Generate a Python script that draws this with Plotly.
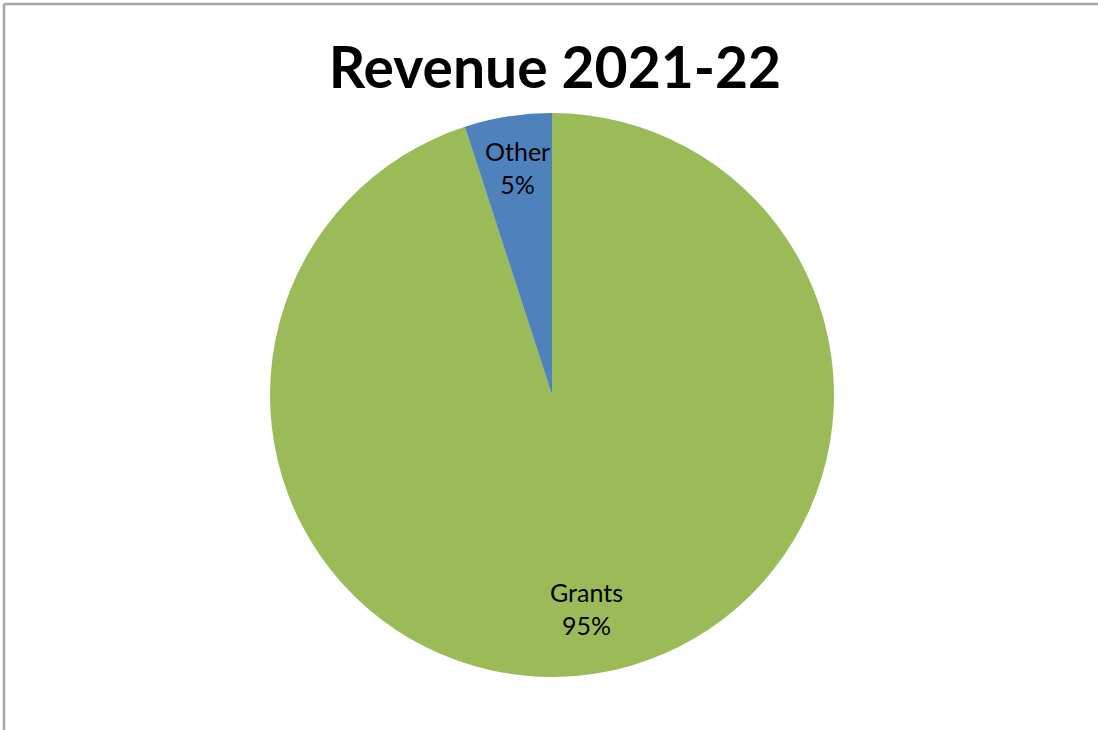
import math
import plotly.graph_objects as go

labels = ["Grants", "Other"]
values = [95, 5]
colors = ["#9BBB59", "#4F81BD"]
title_text = "Revenue 2021-22"

# layout geometry (pixels)
W, H = 1098, 730
ML, MR, MT, MB = 100, 94, 113, 53
PW, PH = W - ML - MR, H - MT - MB
R = min(PW, PH) / 2
LABEL_R = 0.79  # label distance as fraction of radius

fig = go.Figure(go.Pie(
    labels=labels,
    values=values,
    sort=False,
    direction="clockwise",
    rotation=0,
    marker=dict(colors=colors, line=dict(width=0)),
    textinfo="none",
    showlegend=False,
    hoverinfo="label+percent",
))

# data labels placed at each slice's mid-angle (clockwise from 12 o'clock)
total = sum(values)
annotations = []
cum = 0.0
for lab, val in zip(labels, values):
    mid = (cum + val / 2) / total * 2 * math.pi
    cum += val
    dx = math.sin(mid) * R * LABEL_R
    dy = math.cos(mid) * R * LABEL_R
    annotations.append(dict(
        x=0.5 + dx / PW, y=0.5 + dy / PH, xref="paper", yref="paper",
        text=f"{lab}<br>{round(val / total * 100)}%", showarrow=False,
        font=dict(family="Lato", size=25, color="black"),
        xanchor="center", yanchor="middle", yshift=7,
    ))

fig.update_layout(
    width=W, height=H,
    margin=dict(l=ML, r=MR, t=MT, b=MB),
    paper_bgcolor="white",
    plot_bgcolor="white",
    title=dict(text="<b>" + title_text + "</b>", x=555 / W, xanchor="center",
               y=1 - 68 / H, yanchor="middle",
               font=dict(family="Lato", size=57, color="black")),
    annotations=annotations,
    shapes=[
        dict(type="line", xref="paper", yref="paper",
             x0=(4 - ML) / PW, x1=(W - ML) / PW,
             y0=(H - MB - 4) / PH, y1=(H - MB - 4) / PH,
             line=dict(color="#A6A6A6", width=2.5)),
        dict(type="line", xref="paper", yref="paper",
             x0=(4 - ML) / PW, x1=(4 - ML) / PW,
             y0=-MB / PH, y1=(H - MB - 4) / PH,
             line=dict(color="#A6A6A6", width=2.5)),
    ],
)

fig.write_html("out.html", config={"displayModeBar": False},
               post_script="document.body.style.margin='0';")
